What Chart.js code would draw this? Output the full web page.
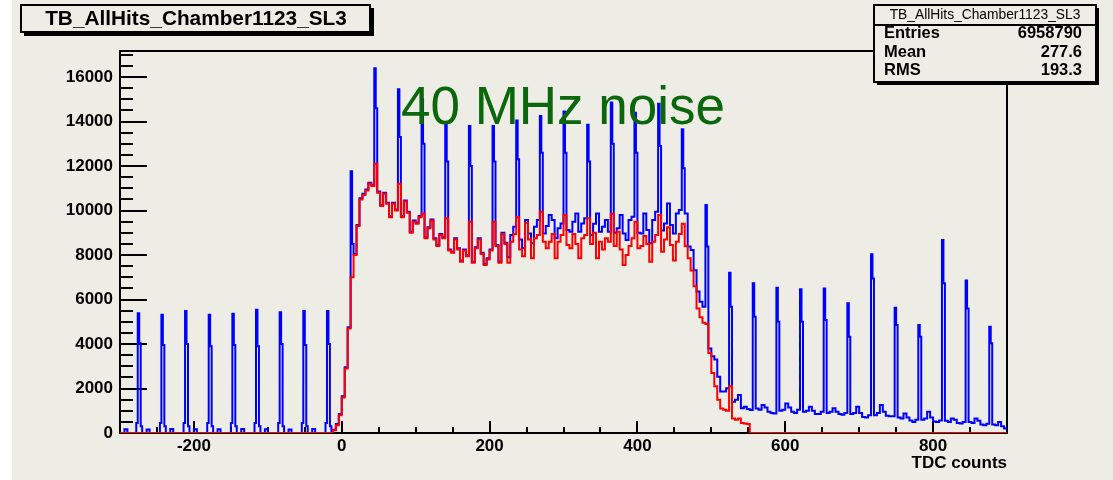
<!DOCTYPE html>
<html>
<head>
<meta charset="utf-8">
<title>TB_AllHits_Chamber1123_SL3</title>
<script src="https://cdn.jsdelivr.net/npm/chart.js@4.4.1/dist/chart.umd.min.js"></script>
<style>
  html, body { margin: 0; padding: 0; background: #fff; }
  #wrap { width: 1113px; height: 480px; }
</style>
</head>
<body>
<div id="wrap"><canvas id="tdcChart" width="1113" height="480"></canvas></div>
<script>
// histogram steps: [lower bin edge in TDC counts, entries]
const redSteps = [
  [-300, 0], [-12, 120], [-8, 350], [-4, 800], [0, 1600], [4, 2900], [8, 4700], [12, 7000],
  [16, 8000], [20, 9300], [24, 10500], [28, 10700], [32, 10900], [36, 11200], [40, 11100], [44, 12100],
  [48, 10800], [52, 10200], [56, 10750], [60, 10300], [64, 9700], [68, 10300], [72, 10000], [76, 11200],
  [80, 9700], [84, 10400], [88, 9900], [92, 9000], [96, 9500], [100, 9400], [104, 9700], [108, 9870],
  [112, 8750], [116, 9200], [120, 9550], [124, 8700], [128, 8400], [132, 8900], [136, 8750], [140, 9650],
  [144, 8200], [148, 8100], [152, 8700], [156, 8250], [160, 7700], [164, 8200], [168, 7950], [172, 9500],
  [176, 7650], [180, 8300], [184, 8700], [188, 8050], [192, 7550], [196, 7800], [200, 8200], [204, 9500],
  [208, 8400], [212, 7650], [216, 8950], [220, 8500], [224, 7650], [228, 8600], [232, 8950], [236, 9700],
  [240, 8250], [244, 7950], [248, 9450], [252, 8700], [256, 7850], [260, 8750], [264, 8900], [268, 9950],
  [272, 8600], [276, 8300], [280, 8600], [284, 8950], [288, 7850], [292, 8600], [296, 8900], [300, 9800],
  [304, 8450], [308, 8300], [312, 8950], [316, 8500], [320, 7850], [324, 8750], [328, 8900], [332, 9650],
  [336, 8500], [340, 9000], [344, 7850], [348, 8600], [352, 8250], [356, 8750], [360, 8600], [364, 9850],
  [368, 8400], [372, 9050], [376, 8250], [380, 7550], [384, 8000], [388, 8400], [392, 8750], [396, 9500],
  [400, 8300], [404, 8400], [408, 8850], [412, 8500], [416, 7700], [420, 8600], [424, 8900], [428, 9800],
  [432, 8150], [436, 8700], [440, 9250], [444, 8450], [448, 7750], [452, 8600], [456, 8950], [460, 9400],
  [464, 8400], [468, 7850], [472, 7300], [476, 6600], [480, 5600], [484, 5200], [488, 4950], [492, 4900],
  [496, 3600], [500, 2700], [504, 2100], [508, 1500], [512, 1100], [516, 1050], [520, 1000], [524, 2100],
  [528, 650], [532, 600], [536, 650], [540, 450], [544, 430], [548, 400], [552, 0], [900, 0]
];

const blueSteps = [
  [-300, 0], [-294, 170], [-290, 0],
  [-278, 450], [-276, 5380], [-274, 4030], [-272, 300], [-270, 0], [-264, 160], [-260, 0],
  [-246, 450], [-244, 5310], [-242, 3950], [-240, 300], [-238, 0], [-232, 180], [-228, 0],
  [-214, 450], [-212, 5480], [-210, 4000], [-208, 300], [-206, 0], [-200, 170], [-196, 0],
  [-182, 450], [-180, 5310], [-178, 3900], [-176, 300], [-174, 0], [-168, 170], [-164, 0],
  [-150, 450], [-148, 5360], [-146, 3950], [-144, 300], [-142, 0], [-136, 180], [-132, 0],
  [-118, 450], [-116, 5535], [-114, 3900], [-112, 300], [-110, 0], [-104, 170], [-100, 0],
  [-86, 450], [-84, 5430], [-82, 4000], [-80, 300], [-78, 0], [-72, 160], [-68, 0],
  [-54, 450], [-52, 5480], [-50, 3950], [-48, 300], [-46, 0], [-40, 180], [-36, 0],
  [-22, 450], [-20, 5480], [-18, 4000], [-16, 300], [-14, 0],
  [-12, 150], [-8, 400], [-4, 850], [0, 1650], [4, 2950], [8, 4750], [12, 11770], [14, 8500],
  [16, 8050], [20, 9350], [24, 10550], [28, 10750], [32, 10950], [36, 11250], [40, 11150], [44, 16390], [46, 14600],
  [48, 10850], [52, 10250], [56, 10800], [60, 10350], [64, 9750], [68, 10350], [72, 10050], [76, 15450], [78, 13300],
  [80, 9750], [84, 10450], [88, 9950], [92, 9050], [96, 9550], [100, 9450], [104, 9750], [108, 15000], [110, 13000],
  [112, 8800], [116, 9250], [120, 9600], [124, 8750], [128, 8450], [132, 8950], [136, 8800], [140, 13900], [142, 12200],
  [144, 8250], [148, 8150], [152, 8750], [156, 8300], [160, 7750], [164, 8250], [168, 8000], [172, 13800], [174, 12000],
  [176, 7700], [180, 8350], [184, 8750], [188, 8100], [192, 7600], [196, 7850], [200, 8250], [204, 13800], [206, 12200],
  [208, 8450], [212, 7700], [216, 9000], [220, 8550], [224, 7900], [228, 8900], [232, 9270], [236, 14050], [238, 12300],
  [240, 8700], [244, 8300], [248, 9570], [252, 8970], [256, 8530], [260, 9270], [264, 9570], [268, 14250], [270, 12600],
  [272, 8970], [276, 9300], [280, 9800], [284, 9570], [288, 8750], [292, 9200], [296, 9420], [300, 14450], [302, 12600],
  [304, 9120], [308, 9050], [312, 9500], [316, 9870], [320, 9050], [324, 9420], [328, 9650], [332, 13850], [334, 12200],
  [336, 8900], [340, 9400], [344, 9870], [348, 9050], [352, 9270], [356, 9570], [360, 9050], [364, 14850], [366, 13000],
  [368, 9000], [372, 9200], [376, 9800], [380, 8970], [384, 8680], [388, 9570], [392, 9720], [396, 14400], [398, 12600],
  [400, 9000], [404, 8970], [408, 9870], [412, 9120], [416, 8530], [420, 9570], [424, 9950], [428, 14800], [430, 12900],
  [432, 9100], [436, 9420], [440, 10320], [444, 9350], [448, 8970], [452, 9870], [456, 10020], [460, 13650], [462, 11900],
  [464, 9870], [468, 8380], [472, 8230], [476, 7320], [480, 6360], [484, 5900], [488, 5680], [492, 10250], [494, 8380],
  [496, 3800], [500, 3450], [504, 3300], [508, 2530], [512, 1860], [516, 1860], [520, 2010], [524, 7200], [526, 5680],
  [528, 1400], [532, 1500], [536, 1710], [540, 1110], [544, 1180], [548, 1080], [552, 1030], [556, 6730], [558, 5230],
  [560, 1100], [564, 1050], [568, 1260], [572, 1150], [576, 960], [580, 900], [584, 880], [588, 6530], [590, 5000],
  [592, 1000], [596, 1050], [600, 1330], [604, 1150], [608, 950], [612, 900], [616, 1050], [620, 6460], [622, 5000],
  [624, 950], [628, 1000], [632, 1180], [636, 1000], [640, 850], [644, 850], [648, 950], [652, 6500], [654, 5080],
  [656, 900], [660, 950], [664, 1110], [668, 950], [672, 850], [676, 820], [680, 900], [684, 5830], [686, 4330],
  [688, 850], [692, 900], [696, 1180], [700, 900], [704, 720], [708, 700], [712, 800], [716, 8040], [718, 6950],
  [720, 800], [724, 900], [728, 1260], [732, 950], [736, 780], [740, 750], [744, 750], [748, 5630], [750, 4850],
  [752, 700], [756, 650], [760, 880], [764, 700], [768, 560], [772, 500], [776, 600], [780, 4850], [782, 4330],
  [784, 600], [788, 650], [792, 950], [796, 700], [800, 520], [804, 500], [808, 560], [812, 8670], [814, 6730],
  [816, 550], [820, 500], [824, 650], [828, 600], [832, 450], [836, 430], [840, 500], [844, 6850], [846, 5600],
  [848, 500], [852, 450], [856, 650], [860, 550], [864, 380], [868, 350], [872, 420], [876, 4780], [878, 4030],
  [880, 380], [884, 350], [888, 500], [892, 300], [896, 200], [900, 200]
];

const xTickValues = [-200, 0, 200, 400, 600, 800];
const yTickValues = [0, 2000, 4000, 6000, 8000, 10000, 12000, 14000, 16000];

const histTitle = "TB_AllHits_Chamber1123_SL3";
const statNames = ["Entries", "Mean", "RMS"];
const statValues = ["6958790", "277.6", "193.3"];
const noteText = "40 MHz noise";
const xTitle = "TDC counts";

const FONT = '"Liberation Sans", Arial, sans-serif';
const BG = "#edece5";

// page background + white strip at the left
const background = {
  id: "background",
  beforeDraw(chart) {
    const ctx = chart.ctx;
    ctx.save();
    ctx.fillStyle = "#ffffff";
    ctx.fillRect(0, 0, chart.width, chart.height);
    ctx.fillStyle = BG;
    ctx.fillRect(12, 0, chart.width - 12, chart.height);
    ctx.restore();
  }
};

// ROOT style frame with ticks pointing inside
const frameTicks = {
  id: "frameTicks",
  beforeDatasetsDraw(chart) {
    const { ctx, chartArea: a } = chart;
    const x = chart.scales.x, y = chart.scales.y;
    ctx.save();
    ctx.strokeStyle = "#000";
    ctx.lineWidth = 2;
    ctx.beginPath();
    for (let v = y.min; v <= y.max; v += 500) {
      const py = Math.round(y.getPixelForValue(v));
      const len = v % 2000 === 0 ? 27 : 13;
      ctx.moveTo(a.left, py);
      ctx.lineTo(a.left + len, py);
    }
    for (let v = x.min; v <= x.max; v += 50) {
      const px = Math.round(x.getPixelForValue(v));
      const len = v % 200 === 0 ? 12 : 6;
      ctx.moveTo(px, a.bottom);
      ctx.lineTo(px, a.bottom - len);
    }
    ctx.stroke();
    ctx.strokeRect(a.left, a.top, a.right - a.left, a.bottom - a.top);
    ctx.restore();
  }
};

// title box, stats box, note and axis title
const overlays = {
  id: "overlays",
  afterDraw(chart) {
    const { ctx, chartArea: a } = chart;
    ctx.save();
    ctx.lineWidth = 2;
    ctx.strokeStyle = "#000";

    // title box
    ctx.fillStyle = "#000";
    ctx.fillRect(24, 8, 350, 28);
    ctx.fillStyle = BG;
    ctx.fillRect(21, 5, 349, 27);
    ctx.strokeRect(21, 5, 349, 27);
    ctx.fillStyle = "#000";
    ctx.font = "bold 20.8px " + FONT;
    ctx.textAlign = "center";
    ctx.textBaseline = "middle";
    ctx.fillText(histTitle, 196, 19.5);

    // stats box
    ctx.fillStyle = "#000";
    ctx.fillRect(877, 8, 222, 77);
    ctx.fillStyle = BG;
    ctx.fillRect(874, 5, 222, 77);
    ctx.strokeRect(874, 5, 222, 77);
    ctx.beginPath();
    ctx.moveTo(874, 25);
    ctx.lineTo(1096, 25);
    ctx.stroke();
    ctx.fillStyle = "#000";
    ctx.font = "13.8px " + FONT;
    ctx.fillText(histTitle, 985, 15);
    ctx.font = "bold 16.5px " + FONT;
    const rowY = [33.5, 52.5, 70.5];
    statNames.forEach((name, i) => {
      ctx.textAlign = "left";
      ctx.fillText(name, 884, rowY[i]);
      ctx.textAlign = "right";
      ctx.fillText(statValues[i], 1082, rowY[i]);
    });

    // x axis title
    ctx.font = "bold 17px " + FONT;
    ctx.textAlign = "right";
    ctx.fillText(xTitle, a.right, 463);

    // note
    ctx.fillStyle = "#0b670b";
    ctx.font = "53px " + FONT;
    ctx.textAlign = "left";
    ctx.textBaseline = "alphabetic";
    ctx.fillText(noteText, 401, 124);
    ctx.restore();
  }
};

const tickFont = { family: FONT, size: 17, weight: "bold" };

const config = {
  type: "scatter",
  data: {
    datasets: [
      {
        label: "SL3 hits (noise removed)",
        data: redSteps.map(([x, y]) => ({ x, y })),
        showLine: true,
        stepped: "before",
        borderColor: "#ff0000",
        borderWidth: 2,
        pointRadius: 0,
        fill: false,
      },
      {
        label: "SL3 all hits",
        data: blueSteps.map(([x, y]) => ({ x, y })),
        showLine: true,
        stepped: "before",
        borderColor: "#0000ff",
        borderWidth: 2,
        pointRadius: 0,
        fill: false,
      },
    ],
  },
  options: {
    responsive: false,
    animation: false,
    events: [],
    layout: { padding: { left: 0, right: 106, top: 51, bottom: 0 } },
    plugins: {
      legend: { display: false },
      tooltip: { enabled: false },
    },
    scales: {
      x: {
        type: "linear",
        min: -300,
        max: 900,
        grid: { display: false, drawTicks: false },
        border: { display: false },
        ticks: {
          font: tickFont,
          color: "#000",
          padding: 3,
          maxRotation: 0,
          autoSkip: false,
          callback: (v) => String(v),
        },
        afterBuildTicks: (scale) => {
          scale.ticks = xTickValues.map((v) => ({ value: v }));
        },
        afterFit: (scale) => {
          scale.height = 47;
        },
      },
      y: {
        type: "linear",
        min: 0,
        max: 17170,
        grid: { display: false, drawTicks: false },
        border: { display: false },
        ticks: {
          font: tickFont,
          color: "#000",
          padding: 7,
          autoSkip: false,
          callback: (v) => String(v),
        },
        afterBuildTicks: (scale) => {
          scale.ticks = yTickValues.map((v) => ({ value: v }));
        },
        afterFit: (scale) => {
          scale.width = 120;
        },
      },
    },
  },
  plugins: [background, frameTicks, overlays],
};

const tdcChart = new Chart(document.getElementById("tdcChart"), config);
</script>
</body>
</html>
